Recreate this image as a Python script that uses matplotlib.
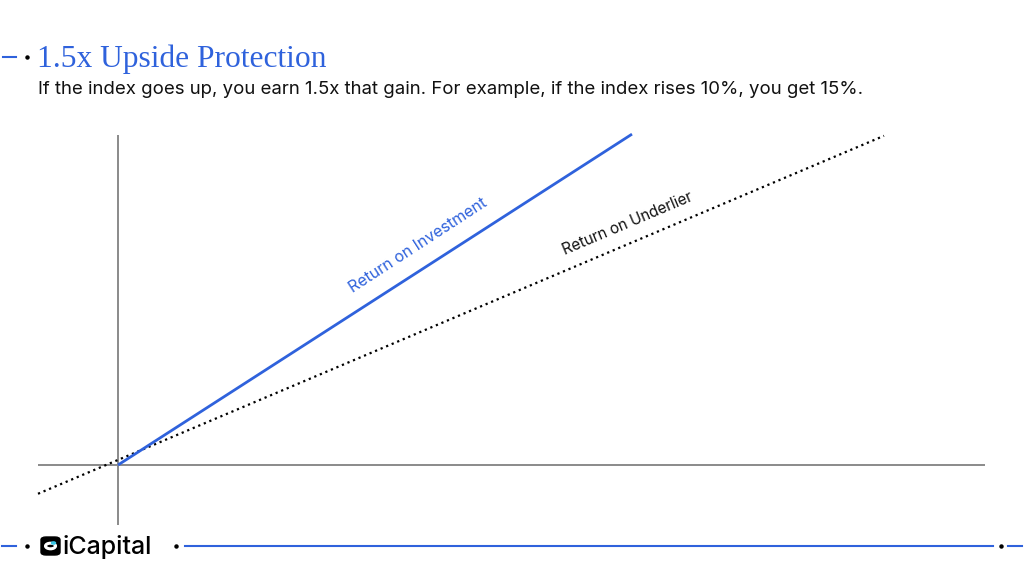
import matplotlib.pyplot as plt
from matplotlib.patches import FancyBboxPatch, Circle

# chart values (index return in %, payoff in %)
underlier_x = [-8.0, 76.6]
underlier_y = [-6.8, 77.8]
invest_x = [0.0, 51.4]
invest_y = [0.0, 78.2]
hline_x = [-8.0, 86.7]
vline_y = [-14.2, 78.0]

title = "1.5x Upside Protection"
subtitle = "If the index goes up, you earn 1.5x that gain. For example, if the index rises 10%, you get 15%."
label_invest = "Return on Investment"
label_under = "Return on Underlier"

BLUE = "#2f62dc"
GREY = "#8a8a8a"

fig = plt.figure(figsize=(10.24, 5.75), dpi=100)
ax = fig.add_axes([0, 0, 1, 1])
ax.set_xlim(-11.8, 90.6)
ax.set_ylim(-26.0, 109.9)
ax.axis("off")

# axes cross
ax.plot(hline_x, [0, 0], color=GREY, lw=1.4, solid_capstyle="butt")
ax.plot([0, 0], vline_y, color=GREY, lw=1.4, solid_capstyle="butt")

# lines
ax.plot(underlier_x, underlier_y, color="black", lw=1.6, linestyle=(0, (1, 1.7)))
ax.plot(invest_x, invest_y, color=BLUE, lw=2.0, solid_capstyle="butt")

ax.text(30.0, 51.8, label_invest, color=BLUE, fontsize=11.5, family="Inter",
        rotation=33, ha="center", va="center", rotation_mode="anchor")
ax.text(51.0, 57.0, label_under, color="#111111", fontsize=11, family="Inter",
        rotation=23, ha="center", va="center", rotation_mode="anchor")

# header (figure coords, pixels from top)
W, H = 1024, 575
def fx(px): return px / W
def fy(py): return 1 - py / H

fig.text(fx(37), fy(59), title, color=BLUE, fontsize=22.7, family="Liberation Serif",
         ha="left", va="center")
fig.text(fx(38), fy(89), subtitle, color="#111111", fontsize=13.4, family="Inter",
         ha="left", va="center")

# decorations top
fig.add_artist(plt.Line2D([fx(3), fx(16)], [fy(57), fy(57)], color=BLUE, lw=1.5))
fig.add_artist(plt.Line2D([fx(27)], [fy(57)], marker="o", ms=2.2, color="black"))

# footer
fig.add_artist(plt.Line2D([fx(2), fx(16)], [fy(546), fy(546)], color=BLUE, lw=1.5))
fig.add_artist(plt.Line2D([fx(27)], [fy(546)], marker="o", ms=2.2, color="black"))
fig.add_artist(plt.Line2D([fx(176)], [fy(546)], marker="o", ms=2.2, color="black"))
fig.add_artist(plt.Line2D([fx(185), fx(993)], [fy(546), fy(546)], color=BLUE, lw=1.5))
fig.add_artist(plt.Line2D([fx(1001)], [fy(546)], marker="o", ms=2.2, color="black"))
fig.add_artist(plt.Line2D([fx(1008), fx(1022)], [fy(546), fy(546)], color=BLUE, lw=1.5))

# logo
fig.add_artist(FancyBboxPatch((fx(41), fy(555)), fx(19), 18 / H,
                              boxstyle="round,pad=0,rounding_size=0.005",
                              transform=fig.transFigure, color="black"))
fig.add_artist(Circle((fx(50.5), fy(546)), 5.0 / W, transform=fig.transFigure,
                      facecolor="none", edgecolor="white", lw=2.2))
fig.add_artist(Circle((fx(53.5), fy(543)), 2.0 / W, transform=fig.transFigure,
                      color="#38c6e6"))
fig.text(fx(62), fy(547), "iCapital", color="black", fontsize=18, family="Inter",
         weight="medium", ha="left", va="center")

fig.savefig("out.png", dpi=100)
